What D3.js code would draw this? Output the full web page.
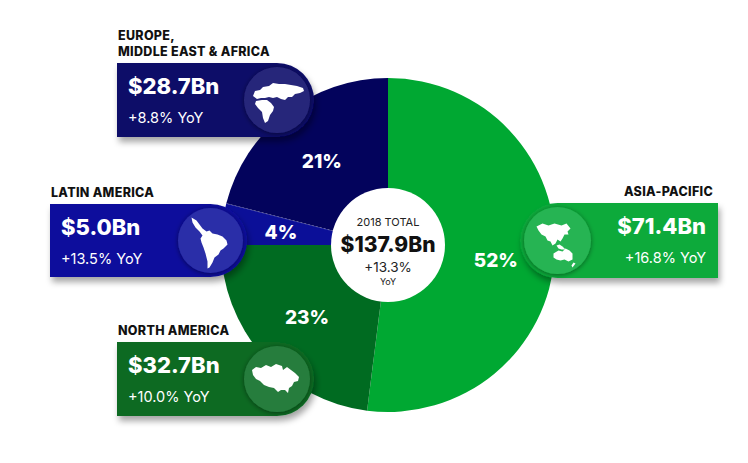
<!DOCTYPE html>
<html lang="en">
<head>
<meta charset="UTF-8"/>
<title>2018 revenue by region</title>
<script src="https://d3js.org/d3.v7.min.js"></script>
<style>
  body { margin: 0; background: #fff; }
  text { font-family: "Inter", "Open Sans", sans-serif; }
</style>
</head>
<body>
<script>
// data
var regions = ["ASIA-PACIFIC", "NORTH AMERICA", "LATIN AMERICA", "EUROPE,|MIDDLE EAST & AFRICA"];
var shares = [52, 23, 4, 21];
var revenueBn = [71.4, 32.7, 5.0, 28.7];
var growthPct = [16.8, 10.0, 13.5, 8.8];
var totalBn = 137.9;
var totalGrowth = 13.3;

var sliceColors = ["#00a832", "#006b21", "#0b0f98", "#03035c"];
var boxColors = ["#08aa3a", "#0a6b24", "#0d109c", "#0b0a68"];

var w = 748, h = 463;
var cx = 388, cy = 245;
var radius = 167, holeR = 57;

var svg = d3.select("body").append("svg")
    .attr("width", w)
    .attr("height", h);

var defs = svg.append("defs");
var f = defs.append("filter").attr("id", "shadow")
    .attr("x", "-20%").attr("y", "-20%").attr("width", "150%").attr("height", "160%");
f.append("feDropShadow").attr("dx", 2).attr("dy", 5).attr("stdDeviation", 3)
    .attr("flood-color", "#000").attr("flood-opacity", 0.35);
var f2 = defs.append("filter").attr("id", "iconShadow")
    .attr("x", "-30%").attr("y", "-30%").attr("width", "160%").attr("height", "160%");
f2.append("feDropShadow").attr("dx", 0).attr("dy", 1).attr("stdDeviation", 2.5)
    .attr("flood-color", "#000").attr("flood-opacity", 0.45);

// pie
var pie = d3.pie().sort(null).value(function(d){ return d; });
var arcs = pie(shares);
var arc = d3.arc().innerRadius(0).outerRadius(radius);
var labelArc = d3.arc().innerRadius(108).outerRadius(108);

var g = svg.append("g").attr("transform", "translate(" + cx + "," + cy + ")");

g.selectAll("path.slice")
    .data(arcs)
    .enter()
    .append("path")
    .attr("class", "slice")
    .attr("d", arc)
    .attr("fill", function(d, i){ return sliceColors[i]; });

// dashed border between latin america and emea
var a = arcs[3].startAngle;
g.append("line")
    .attr("x1", 0).attr("y1", 0)
    .attr("x2", Math.sin(a) * radius).attr("y2", -Math.cos(a) * radius)
    .attr("stroke", "rgba(255,255,255,0.35)")
    .attr("stroke-width", 0.8)
    .attr("stroke-dasharray", "2,2");

g.selectAll("text.pct")
    .data(arcs)
    .enter()
    .append("text")
    .attr("class", "pct")
    .attr("x", function(d){ return labelArc.centroid(d)[0]; })
    .attr("y", function(d, i){ return labelArc.centroid(d)[1] + (i === 0 ? 15 : 8); })
    .attr("text-anchor", "middle")
    .attr("fill", "#fff")
    .attr("font-size", "19px")
    .attr("font-weight", 800)
    .text(function(d){ return d.data + "%"; });

// center
g.append("circle").attr("r", holeR).attr("fill", "#fff");
g.append("text").attr("y", -19).attr("text-anchor", "middle")
    .attr("font-size", "11px").attr("fill", "#222").text("2018 TOTAL");
g.append("text").attr("y", 7).attr("text-anchor", "middle")
    .attr("font-size", "21px").attr("font-weight", 800).attr("fill", "#111")
    .text("$" + totalBn.toFixed(1) + "Bn");
g.append("text").attr("y", 27).attr("text-anchor", "middle")
    .attr("font-size", "13.5px").attr("fill", "#222")
    .text("+" + totalGrowth.toFixed(1) + "%");
g.append("text").attr("y", 40).attr("text-anchor", "middle")
    .attr("font-size", "9px").attr("fill", "#222").text("YoY");

// callout boxes: layout only (index matches data arrays)
var boxes = [
    {x: 520, y: 203, w: 198, h: 75, side: "right"},
    {x: 117, y: 342, w: 197, h: 74, side: "left"},
    {x: 50,  y: 204, w: 197, h: 73, side: "left"},
    {x: 117, y: 63,  w: 197, h: 74, side: "left"}
];

// rough continent silhouettes, in icon-local coordinates
var icons = [
    ["M-21,-14 L-15,-17 L-9,-15 L-3,-17 L4,-15 L9,-17 L13,-12 L10,-9 L11,-6 L7,-6 L5,-2 L3,1 L0,-1 L-2,3 L-5,5 L-7,1 L-10,0 L-12,-4 L-16,-6 L-19,-10 Z",
     "M-1,5 L2,4 L5,6 L8,9 L4,9 L1,8 Z",
     "M-4,13 L1,10 L5,11 L8,8 L12,10 L15,13 L15,19 L11,21 L7,19 L3,20 L-1,19 L-4,17 Z",
     "M16,22 L18,23 L15,27 L14,25 Z"],
    ["M-25,-9 L-21,-12 L-16,-11 L-11,-14 L-6,-12 L-1,-15 L5,-13 L6,-9 L10,-12 L14,-9 L18,-6 L22,-2 L21,2 L17,3 L15,7 L12,9 L11,14 L8,11 L4,11 L1,13 L-3,9 L-8,8 L-13,6 L-17,2 L-21,0 L-24,-4 Z"],
    ["M-19,-23 L-14,-20 L-11,-16 L-8,-12 L-4,-9 L-1,-10 L2,-7 L7,-6 L12,-4 L16,0 L17,4 L13,8 L10,10 L8,14 L4,17 L2,22 L-1,27 L-3,28 L-3,21 L-5,13 L-7,7 L-9,2 L-10,-2 L-8,-5 L-11,-9 L-15,-13 L-18,-18 Z"],
    ["M-24,-4 L-22,-9 L-17,-10 L-14,-13 L-8,-14 L-4,-17 L2,-16 L8,-16 L14,-15 L20,-14 L26,-12 L27,-9 L23,-7 L18,-6 L15,-3 L11,-3 L8,0 L4,-1 L0,-3 L-4,-2 L-8,-3 L-12,-2 L-16,-2 L-20,-1 Z",
     "M-21,1 L-15,0 L-10,0 L-6,3 L-3,7 L-4,11 L-7,15 L-9,21 L-12,23 L-14,18 L-15,12 L-19,8 L-22,4 Z"]
];

boxes.forEach(function(b, i){
    var r = b.h / 2;
    var p;
    if (b.side === "left") {
        var ex = b.x + b.w - r;
        p = "M" + b.x + "," + b.y + " H" + ex +
            " A" + r + "," + r + " 0 0 1 " + ex + "," + (b.y + b.h) +
            " H" + b.x + " Z";
    } else {
        var sx = b.x + r;
        p = "M" + (b.x + b.w) + "," + b.y + " H" + sx +
            " A" + r + "," + r + " 0 0 0 " + sx + "," + (b.y + b.h) +
            " H" + (b.x + b.w) + " Z";
    }
    svg.append("path").attr("d", p).attr("fill", boxColors[i]).attr("filter", "url(#shadow)");

    var icx = b.side === "left" ? b.x + b.w - r : b.x + r;
    var icy = b.y + r;
    var ig = svg.append("g").attr("transform", "translate(" + icx + "," + icy + ")");
    ig.append("circle").attr("r", r - 4)
        .attr("fill", d3.interpolateRgb(boxColors[i], "#ffffff")(0.12))
        .attr("filter", "url(#iconShadow)");
    icons[i].forEach(function(d){
        ig.append("path").attr("d", d).attr("fill", "#fff");
    });

    var tx = b.side === "left" ? b.x + 11 : b.x + b.w - 12;
    var anchor = b.side === "left" ? "start" : "end";
    svg.append("text").attr("x", tx).attr("y", b.y + 31)
        .attr("text-anchor", anchor).attr("fill", "#fff")
        .attr("font-size", "22px").attr("font-weight", 800)
        .text("$" + revenueBn[i].toFixed(1) + "Bn");
    svg.append("text").attr("x", tx).attr("y", b.y + 60)
        .attr("text-anchor", anchor).attr("fill", "#fff")
        .attr("font-size", "14.5px")
        .text("+" + growthPct[i].toFixed(1) + "% YoY");

    // region label above the box
    var lines = regions[i].split("|");
    var lx = b.side === "left" ? b.x + 1 : b.x + b.w - 5;
    lines.forEach(function(t, k){
        svg.append("text")
            .attr("x", lx)
            .attr("y", b.y - 7 - (lines.length - 1 - k) * 16)
            .attr("text-anchor", anchor)
            .attr("fill", "#111")
            .attr("font-size", "12.5px")
            .attr("font-weight", 800)
            .attr("letter-spacing", "0.3px")
            .text(t);
    });
});
</script>
</body>
</html>
